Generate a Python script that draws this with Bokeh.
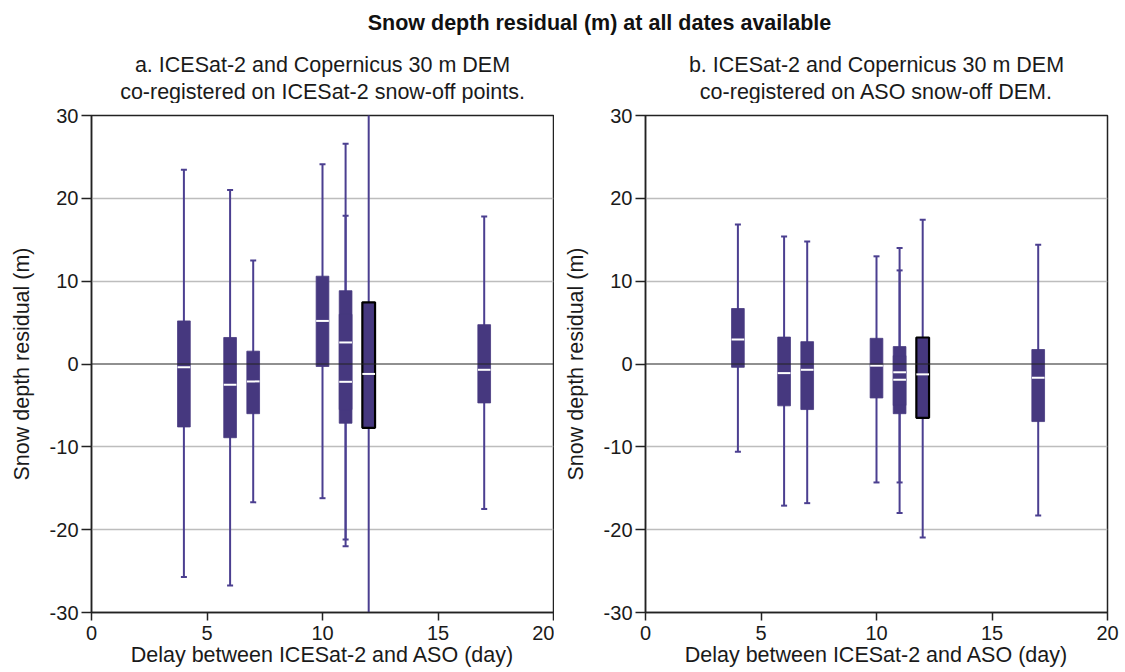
from bokeh.plotting import figure
from bokeh.layouts import column, row
from bokeh.models import Span, ColumnDataSource, FixedTicker, Range1d, PrintfTickFormatter
from bokeh.core.properties import value
from bokeh.embed import file_html
from bokeh.resources import INLINE

# ---------------- data ----------------
delay = [4, 6, 7, 10, 11, 11, 12, 17]
highlight = [False, False, False, False, False, False, True, False]

# panel a: co-registered on ICESat-2 snow-off points
q1_a = [-7.6, -8.9, -6.0, -0.3, -7.15, -5.5, -7.7, -4.7]
q3_a = [5.2, 3.2, 1.55, 10.6, 8.85, 6.0, 7.45, 4.75]
med_a = [-0.4, -2.5, -2.1, 5.2, 2.6, -2.15, -1.2, -0.7]
lo_a = [-25.7, -26.75, -16.7, -16.2, -22.0, -21.2, -48.0, -17.5]
hi_a = [23.45, 21.0, 12.5, 24.1, 26.6, 17.9, 48.0, 17.8]

# panel b: co-registered on ASO snow-off DEM
q1_b = [-0.4, -5.05, -5.5, -4.1, -6.0, -5.0, -6.5, -6.95]
q3_b = [6.7, 3.25, 2.7, 3.1, 2.1, 1.0, 3.2, 1.75]
med_b = [2.95, -1.1, -0.7, -0.2, -1.0, -1.9, -1.25, -1.65]
lo_b = [-10.6, -17.1, -16.8, -14.3, -18.0, -14.3, -20.95, -18.3]
hi_b = [16.85, 15.4, 14.8, 13.0, 14.0, 11.3, 17.4, 14.4]

title_main = "Snow depth residual (m) at all dates available"
sub_a = ["a. ICESat-2 and Copernicus 30 m DEM", "co-registered on ICESat-2 snow-off points."]
sub_b = ["b. ICESat-2 and Copernicus 30 m DEM", "co-registered on ASO snow-off DEM."]
x_label = "Delay between ICESat-2 and ASO (day)"
y_label = "Snow depth residual (m)"
x_ticks = [0, 5, 10, 15, 20]
y_ticks = [-30, -20, -10, 0, 10, 20, 30]

FONT = "Liberation Sans"
BOX = "#46387f"
WHISK = "#4b3f90"
TXT = "#1a1a1a"
BOX_W = 0.55
CAP_HALF = 0.13

HEADER_H = 103
FRAME_W, FRAME_H = 462, 497
LEFT_B = 91


def panel(q1, q3, med, lo, hi, border_left, border_right):
    p = figure(title=None, frame_width=FRAME_W, frame_height=FRAME_H, output_backend="svg",
               toolbar_location=None, x_range=Range1d(0, 20), y_range=Range1d(-30, 30),
               min_border_left=border_left, min_border_right=border_right,
               min_border_top=115 - HEADER_H, min_border_bottom=4)

    src = ColumnDataSource(dict(
        x=delay, q1=q1, q3=q3, med=med, lo=lo, hi=hi,
        cl=[v - CAP_HALF for v in delay], cr=[v + CAP_HALF for v in delay],
        ml=[v - BOX_W / 2 for v in delay], mr=[v + BOX_W / 2 for v in delay],
        edge=["#000000" if h else BOX for h in highlight],
        ew=[2.2 if h else 0.8 for h in highlight],
    ))
    # grid & zero line
    p.xgrid.visible = False
    p.ygrid.ticker = FixedTicker(ticks=[-20, -10, 10, 20])
    p.ygrid.grid_line_color = "#bdbdbd"
    p.ygrid.grid_line_width = 1.5
    p.add_layout(Span(location=0, dimension="width", line_color="#222222", line_width=1.2))

    # whiskers
    p.segment(x0="x", y0="lo", x1="x", y1="hi", source=src, line_color=WHISK, line_width=2)
    p.segment(x0="cl", y0="lo", x1="cr", y1="lo", source=src, line_color=WHISK, line_width=2)
    p.segment(x0="cl", y0="hi", x1="cr", y1="hi", source=src, line_color=WHISK, line_width=2)
    # boxes
    p.vbar(x="x", width=BOX_W, bottom="q1", top="q3", source=src, fill_color=BOX,
           line_color="edge", line_width="ew")
    # medians
    p.segment(x0="ml", y0="med", x1="mr", y1="med", source=src, line_color="white", line_width=2)

    p.xaxis.ticker = FixedTicker(ticks=x_ticks)
    p.yaxis.ticker = FixedTicker(ticks=y_ticks)
    for ax in (p.xaxis[0], p.yaxis[0]):
        ax.formatter = PrintfTickFormatter(format="%d")
        ax.major_label_text_font = FONT
        ax.major_label_text_font_size = "20px"
        ax.major_label_text_color = TXT
        ax.axis_label_text_font = FONT
        ax.axis_label_text_font_size = "21.5px"
        ax.axis_label_text_font_style = "normal"
        ax.axis_label_text_color = TXT
        ax.minor_tick_line_color = None
        ax.major_tick_in = 0
        ax.axis_line_color = "#222222"
        ax.axis_line_width = 1.5
        ax.major_tick_line_width = 1.5
        ax.major_tick_line_color = "#222222"
    p.xaxis.major_tick_out = 8
    p.yaxis.major_tick_out = 10
    p.xaxis.axis_label = x_label
    p.yaxis.axis_label = y_label
    p.xaxis.axis_label_standoff = 0
    p.yaxis.axis_label_standoff = 13
    p.xaxis.major_label_standoff = 5
    p.yaxis.major_label_standoff = 3
    p.outline_line_color = "#222222"
    p.outline_line_width = 1.5
    p.outline_line_alpha = 1
    return p


left = panel(q1_a, q3_a, med_a, lo_a, hi_a, LEFT_B, 1)
right = panel(q1_b, q3_b, med_b, lo_b, hi_b, LEFT_B, 18)

# header with the overall title and the two-line panel subtitles (page pixel coords)
header = figure(width=1125, height=HEADER_H, output_backend="svg", toolbar_location=None,
                title=None, x_range=Range1d(0, 1125), y_range=Range1d(HEADER_H, 0),
                min_border_left=0, min_border_right=0, min_border_top=0, min_border_bottom=0)
header.axis.visible = False
header.grid.visible = False
header.outline_line_color = None

left_c = LEFT_B + FRAME_W / 2
right_c = 645 + FRAME_W / 2
header.text(x=[(LEFT_B + 645 + FRAME_W) / 2], y=[22], text=[title_main],
            text_font=value(FONT), text_font_size="21.5px", text_font_style="bold",
            text_align="center", text_baseline="alphabetic", text_color="#111111")
sub_src = ColumnDataSource(dict(
    x=[left_c, left_c, right_c, right_c],
    y=[64, 91, 64, 91],
    t=[sub_a[0], sub_a[1], sub_b[0], sub_b[1]],
))
header.text(x="x", y="y", text="t", source=sub_src,
            text_font=value(FONT), text_font_size="21.5px",
            text_align="center", text_baseline="alphabetic", text_color=TXT)

layout = column(header, row(left, right, spacing=0), spacing=0)

open("out.html", "w").write(file_html(layout, INLINE))
